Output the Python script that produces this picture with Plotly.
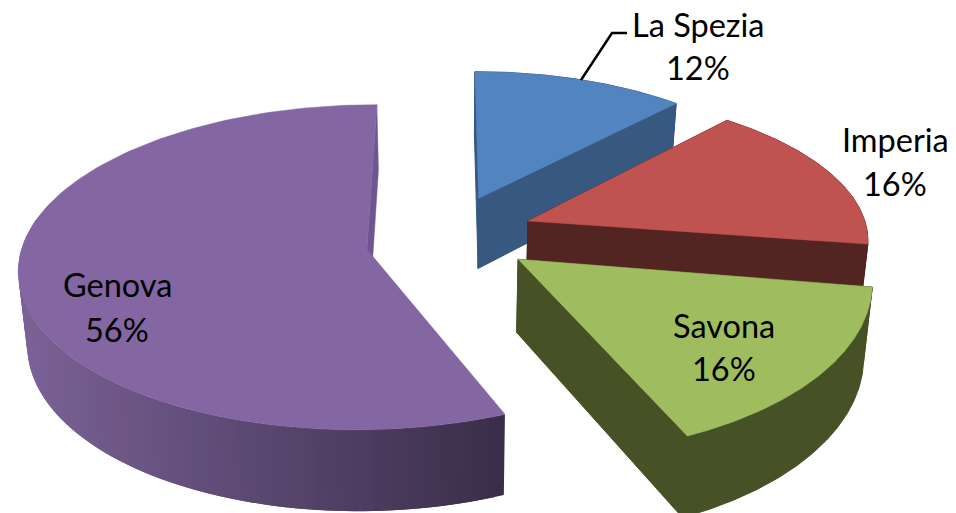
import math
import plotly.graph_objects as go

# Data
labels = ["La Spezia", "Imperia", "Savona", "Genova"]
values = [12, 15.5, 16, 56.49]
percent_labels = ["12%", "16%", "16%", "56%"]
top_colors = ["#5285C0", "#C0534F", "#9FBD5E", "#8466A2"]
wall_colors = ["#37587F", "#522422", "#465126", None]
draw_order = [3, 0, 1, 2]
label_pos = [(698, 24.5, 67), (895, 139.5, 183), (724, 325.5, 368), (117, 284.5, 329)]

# Projection constants
W, H = 956, 513
CX, CY = 449.0, 241.0
A, B = 354.0, 162.0
P = 0.11
EXPLODE = 0.25
DEPTH = 72.0
SHRINK = 0.98
# Per-slice screen tuning: apex shift dx, dy, radial scale sx, sy
TUNE = [(-2, -6, 0.91, 0.91), (-4, -7, 0.96, 0.91), (-2, -7, 0.975, 1.04), (5, 0, 0.97, 0.98)]
# Per-slice angle trim in degrees (start, end), for the picture's perspective distortion
TRIM = [(-0.2, 0), (-2.0, 0), (0, -1.0), (0.8, 0.3)]


def project(x, y, bottom=False):
    s = 1.0 / (1.0 + P * y)
    sx = CX + A * x * s
    sy = CY - B * y * s
    if bottom:
        sx = CX + (sx - CX) * SHRINK
        sy += DEPTH * s
    return sx, sy


def mix(c1, c2, t):
    return "rgb(%d,%d,%d)" % tuple(round(a + (b - a) * t) for a, b in zip(c1, c2))


def poly(fig, pts, color, lw=0.5):
    xs = [p[0] for p in pts] + [pts[0][0]]
    ys = [p[1] for p in pts] + [pts[0][1]]
    fig.add_trace(go.Scatter(x=xs, y=ys, mode="lines", fill="toself", fillcolor=color,
                             line=dict(color=color, width=lw), hoverinfo="skip", showlegend=False))


total = sum(values)
spans = []
acc = 0.0
for v in values:
    d = 360.0 * v / total
    spans.append((acc, acc + d))
    acc += d

fig = go.Figure()
for i in draw_order:
    a0, a1 = spans[i]
    mid = math.radians((a0 + a1) / 2)
    a0 += TRIM[i][0]
    a1 += TRIM[i][1]
    ex, ey = EXPLODE * math.sin(mid), EXPLODE * math.cos(mid)
    dx, dy, fx, fy = TUNE[i]
    ax, ay = project(ex, ey)

    def pj(x, y, bottom=False):
        px, py = project(x, y, False)
        sx = ax + dx + (px - ax) * fx
        sy = ay + dy + (py - ay) * fy
        if bottom:
            qx, qy = project(x, y, True)
            sx += qx - px
            sy += qy - py
        return sx, sy

    n = 140
    angs = [math.radians(a0 + (a1 - a0) * k / n) for k in range(n + 1)]
    rim = [(ex + math.sin(t), ey + math.cos(t)) for t in angs]
    is_grad = wall_colors[i] is None
    cut_col = "#6E5790" if is_grad else wall_colors[i]
    # Outer wall
    if is_grad:
        for k in range(n):
            if math.cos(angs[k]) > 0.2:
                continue
            t0, t1 = rim[k], rim[min(k + 2, n)]
            p = [pj(*t0), pj(*t1), pj(*t1, True), pj(*t0, True)]
            f = min(1, max(0, (p[0][0] - 25) / 480))
            poly(fig, p, mix((122, 97, 150), (58, 46, 74), f), lw=0)
    else:
        poly(fig, [pj(*r) for r in rim] + [pj(*r, True) for r in reversed(rim)], wall_colors[i], lw=1)
    # Cut faces (the slice's hidden start face is skipped for the gradient slice)
    ends = (rim[-1],) if is_grad else (rim[0], rim[-1])
    for end in ends:
        poly(fig, [pj(ex, ey), pj(*end), pj(*end, True), pj(ex, ey, True)], cut_col, lw=0.5 if is_grad else 1)
    # Top face
    poly(fig, [pj(ex, ey)] + [pj(*r) for r in rim], top_colors[i])

annots = []
for lab, pct, (x, y1, y2) in zip(labels, percent_labels, label_pos):
    for txt, y in ((lab, y1), (pct, y2)):
        annots.append(dict(x=x, y=y, text=txt, showarrow=False, xanchor="center", yanchor="middle",
                           font=dict(family="Lato", size=32.5, color="black")))

leader = dict(type="path", xref="x", yref="y", path="M 627 33 L 612 33 L 581 80",
              line=dict(color="black", width=2.5))

fig.update_layout(
    width=W, height=H, margin=dict(l=0, r=0, t=0, b=0), autosize=False,
    paper_bgcolor="white", plot_bgcolor="white", showlegend=False,
    xaxis=dict(range=[0, W], visible=False, fixedrange=True),
    yaxis=dict(range=[H, 0], visible=False, fixedrange=True),
    annotations=annots, shapes=[leader],
)
fig.write_html("out.html", config={"displayModeBar": False},
               post_script="document.body.style.margin='0';document.body.style.overflow='hidden';")
